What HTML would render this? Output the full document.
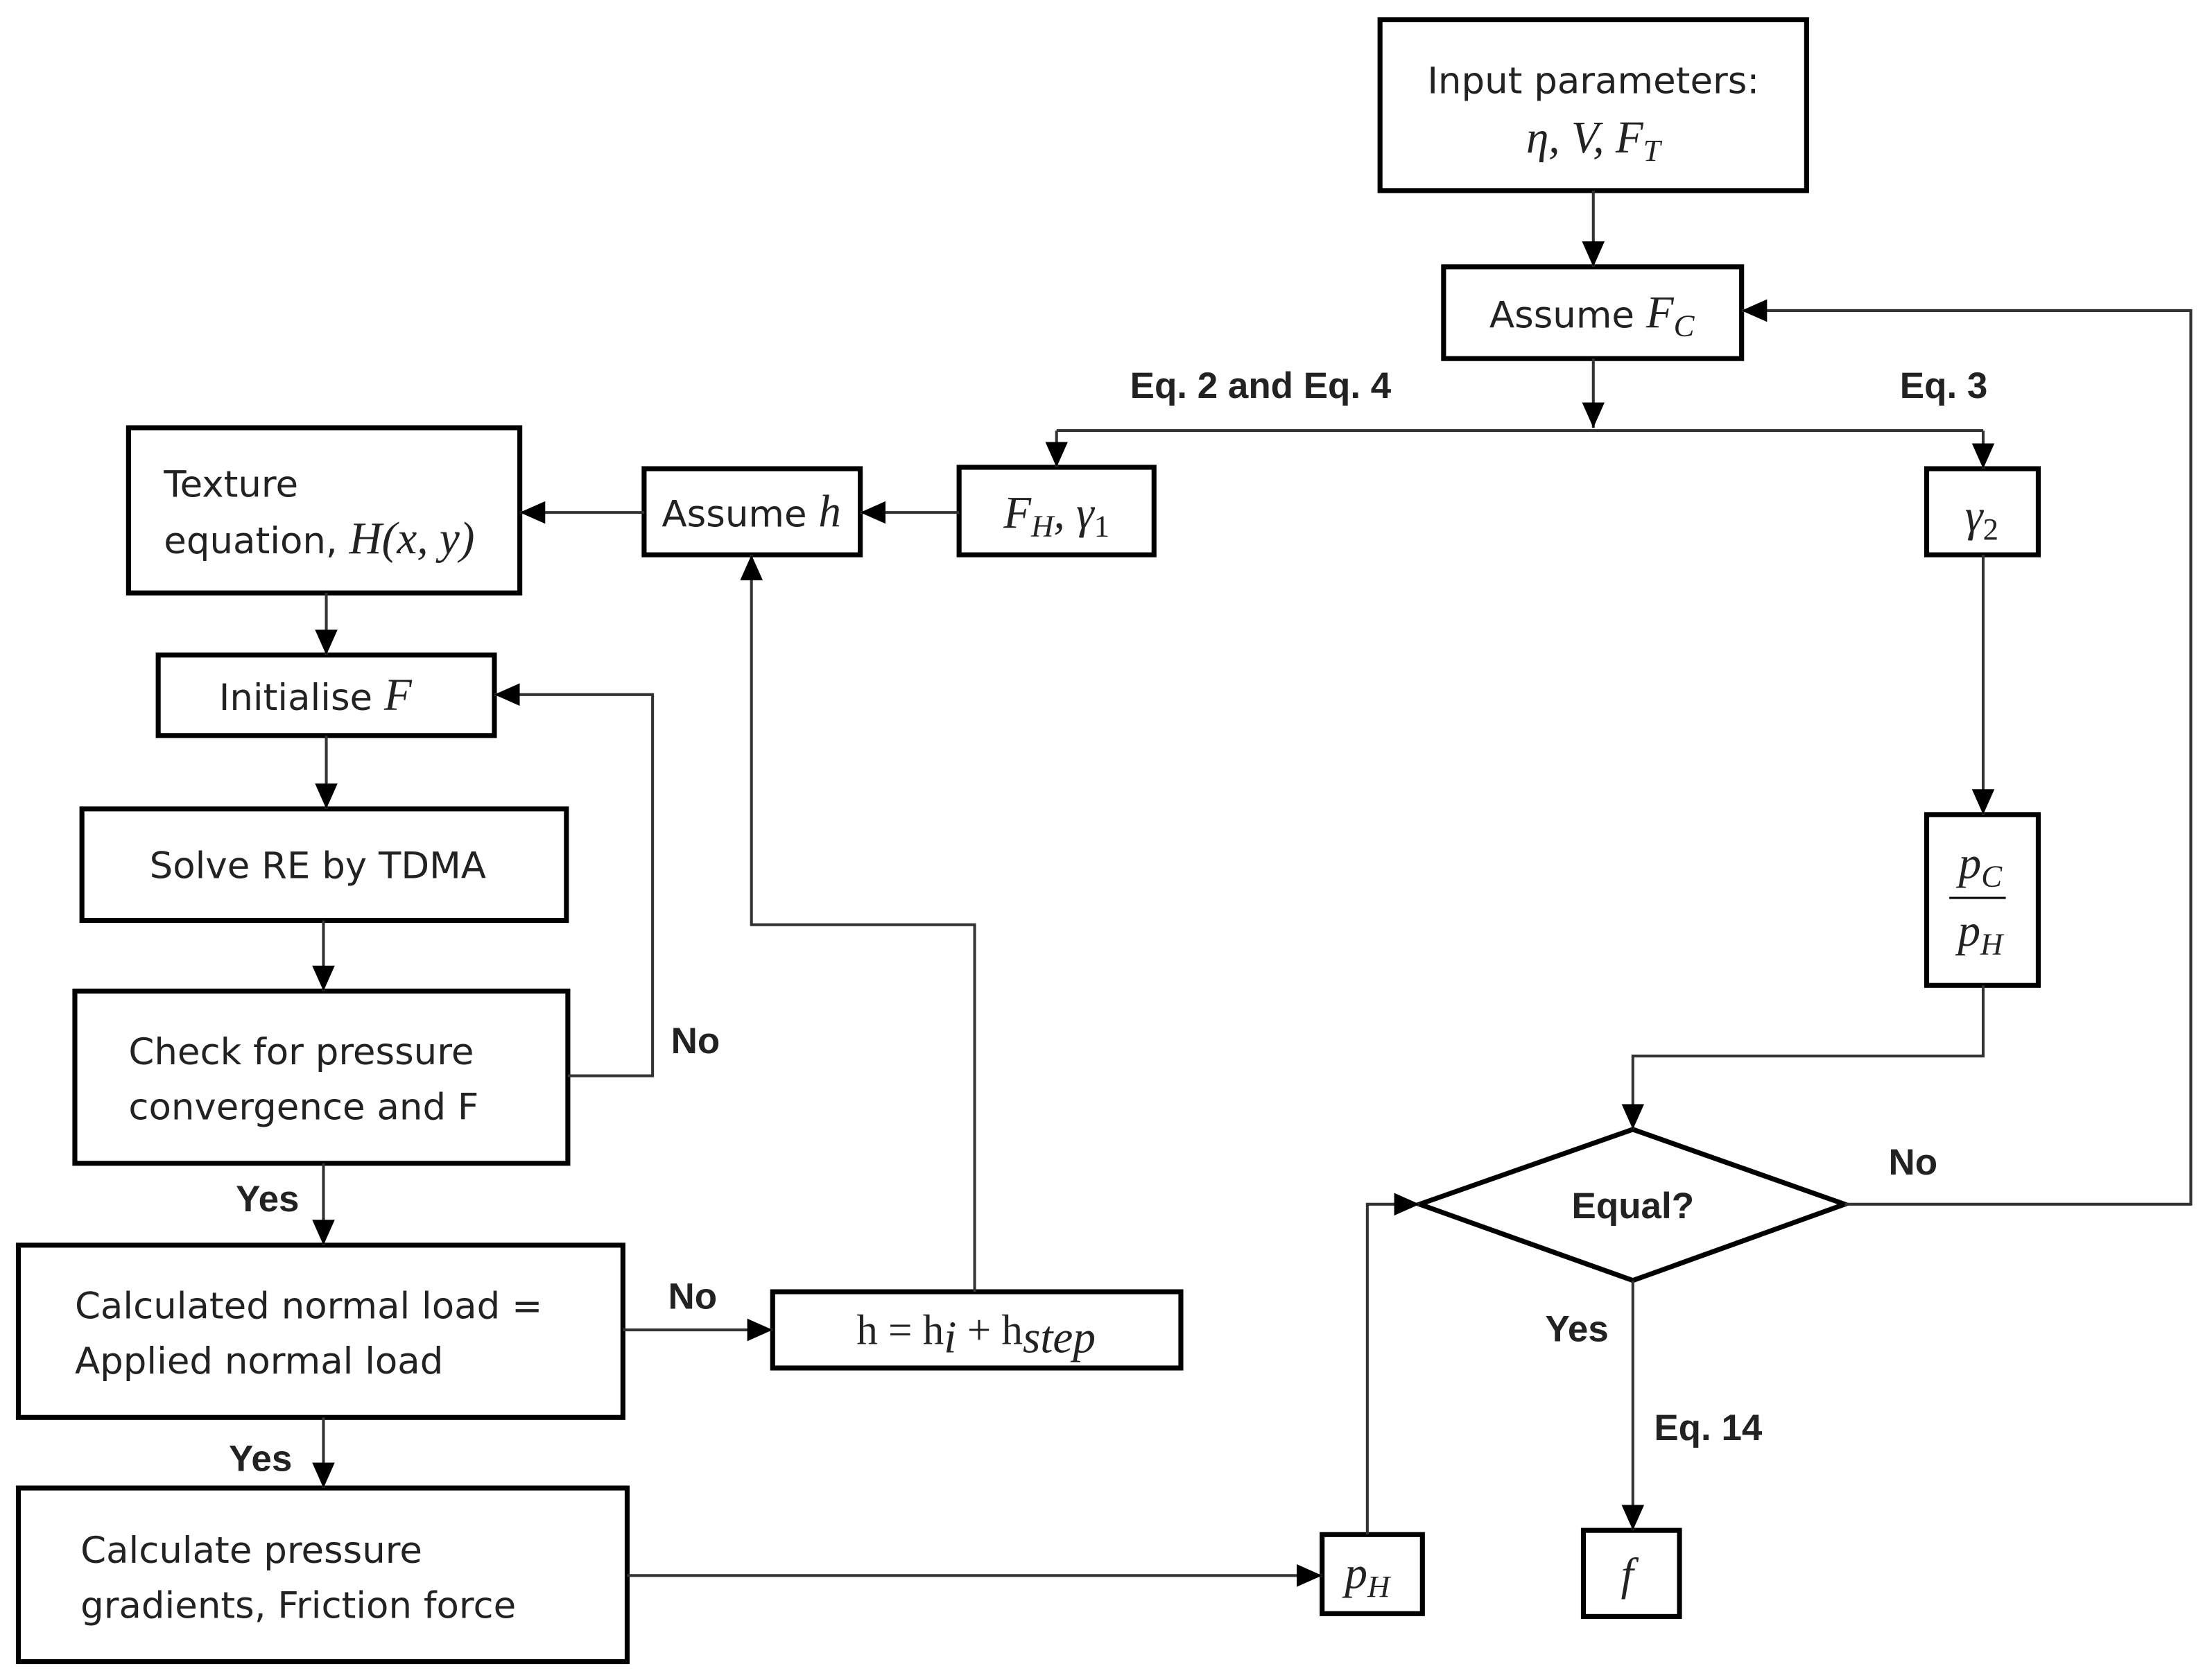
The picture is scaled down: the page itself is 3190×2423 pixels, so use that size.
<!DOCTYPE html>
<html><head><meta charset="utf-8"><style>
html,body{margin:0;padding:0;background:#fff;}
svg{display:block}
text{font-family:"DejaVu Sans","Liberation Sans",sans-serif;font-size:26px;fill:#222}
.m{font-family:"Liberation Serif",serif;font-style:italic;font-size:32px}
.b{font-weight:bold;font-family:"Liberation Sans",sans-serif;font-size:26px}
rect,polygon.d{fill:#fff;stroke:#000;stroke-width:3.5}
.l{fill:none;stroke:#333;stroke-width:2}
</style></head><body>
<svg width="3190" height="2423" viewBox="0 0 1566 1190" preserveAspectRatio="none" xmlns="http://www.w3.org/2000/svg">
<defs>
<marker id="A" markerWidth="20" markerHeight="20" refX="18" refY="10" orient="auto" markerUnits="userSpaceOnUse"><path d="M0,2 L18,10 L0,18z" fill="#000"/></marker></defs>

<rect x="977" y="14" width="302" height="121"/>
<text x="1128" y="66" text-anchor="middle">Input parameters:</text>
<text x="1128" y="108" text-anchor="middle" class="m">η, V, F<tspan font-size="22" dy="6">T</tspan></text>

<rect x="1022" y="189" width="211" height="65"/>
<text x="1127" y="232" text-anchor="middle">Assume <tspan class="m">F<tspan font-size="22" dy="6">C</tspan></tspan></text>

<text x="800" y="282" class="b">Eq. 2 and Eq. 4</text>
<text x="1345" y="282" class="b">Eq. 3</text>

<rect x="679" y="331" width="138" height="62"/>
<text x="748" y="374" text-anchor="middle" class="m">F<tspan font-size="22" dy="6">H</tspan><tspan dy="-6">, γ</tspan><tspan font-size="22" dy="6" font-style="normal">1</tspan></text>
<rect x="1364" y="332" width="79" height="61"/>
<text x="1403" y="376" text-anchor="middle" class="m">γ<tspan font-size="22" dy="6" font-style="normal">2</tspan></text>
<rect x="456" y="332" width="153" height="61"/>
<text x="532" y="373" text-anchor="middle">Assume <tspan class="m">h</tspan></text>
<rect x="91" y="303" width="277" height="117"/>
<text x="116" y="352">Texture</text>
<text x="116" y="392">equation, <tspan class="m">H</tspan><tspan class="m" font-style="normal">(</tspan><tspan class="m">x, y</tspan><tspan class="m" font-style="normal">)</tspan></text>
<rect x="112" y="464" width="238" height="57"/>
<text x="155" y="503">Initialise <tspan class="m">F</tspan></text>
<rect x="58" y="573" width="343" height="79"/>
<text x="225" y="622" text-anchor="middle">Solve RE by TDMA</text>
<rect x="53" y="702" width="349" height="122"/>
<text x="91" y="754">Check for pressure</text>
<text x="91" y="793">convergence and F</text>
<rect x="13" y="882" width="428" height="122"/>
<text x="53" y="934">Calculated normal load =</text>
<text x="53" y="973">Applied normal load</text>
<rect x="547" y="915" width="289" height="54"/>
<text x="691" y="952" text-anchor="middle" style="font-family:'Liberation Serif',serif;font-size:30px">h = h<tspan class="m" font-size="22" dy="6">i</tspan><tspan dy="-6"> + h</tspan><tspan class="m" font-size="22" dy="6">step</tspan></text>
<rect x="13" y="1054" width="431" height="123"/>
<text x="57" y="1107">Calculate pressure</text>
<text x="57" y="1146">gradients, Friction force</text>
<rect x="936" y="1087" width="71" height="56"/>
<text x="968" y="1125" text-anchor="middle" class="m">p<tspan font-size="22" dy="6">H</tspan></text>
<rect x="1121" y="1084" width="68" height="61"/>
<text x="1152" y="1126" text-anchor="middle" class="m">f</text>
<rect x="1364" y="577" width="79" height="121"/>
<text x="1402" y="622" text-anchor="middle" class="m">p<tspan font-size="22" dy="6">C</tspan></text>
<line x1="1380" y1="636" x2="1420" y2="636" stroke="#000" stroke-width="1.5"/>
<text x="1402" y="670" text-anchor="middle" class="m">p<tspan font-size="22" dy="6">H</tspan></text>
<polygon class="d" points="1005,853 1156,800 1306,853 1156,907"/>
<text x="1156" y="863" text-anchor="middle" class="b">Equal?</text>

<text x="475" y="746" class="b">No</text>
<text x="167" y="858" class="b">Yes</text>
<text x="473" y="927" class="b">No</text>
<text x="162" y="1042" class="b">Yes</text>
<text x="1337" y="832" class="b">No</text>
<text x="1094" y="950" class="b">Yes</text>
<text x="1171" y="1020" class="b">Eq. 14</text>

<g class="l">
<line x1="1128" y1="135" x2="1128" y2="189" marker-end="url(#A)"/>
<line x1="1128" y1="254" x2="1128" y2="303" marker-end="url(#A)"/>
<line x1="748" y1="305" x2="1404" y2="305"/>
<line x1="748" y1="305" x2="748" y2="331" marker-end="url(#A)"/>
<line x1="1404" y1="305" x2="1404" y2="332" marker-end="url(#A)"/>
<line x1="679" y1="363" x2="609" y2="363" marker-end="url(#A)"/>
<line x1="456" y1="363" x2="368" y2="363" marker-end="url(#A)"/>
<line x1="231" y1="420" x2="231" y2="464" marker-end="url(#A)"/>
<line x1="231" y1="521" x2="231" y2="573" marker-end="url(#A)"/>
<line x1="229" y1="652" x2="229" y2="702" marker-end="url(#A)"/>
<polyline points="402,762 462,762 462,492 350,492" marker-end="url(#A)"/>
<line x1="229" y1="824" x2="229" y2="882" marker-end="url(#A)"/>
<line x1="441" y1="942" x2="547" y2="942" marker-end="url(#A)"/>
<polyline points="690,915 690,655 532,655 532,393" marker-end="url(#A)"/>
<line x1="229" y1="1004" x2="229" y2="1054" marker-end="url(#A)"/>
<line x1="444" y1="1116" x2="936" y2="1116" marker-end="url(#A)"/>
<polyline points="968,1087 968,853 1005,853" marker-end="url(#A)"/>
<line x1="1404" y1="393" x2="1404" y2="577" marker-end="url(#A)"/>
<polyline points="1404,698 1404,748 1156,748 1156,800" marker-end="url(#A)"/>
<polyline points="1306,853 1551,853 1551,220 1233,220" marker-end="url(#A)"/>
<line x1="1156" y1="907" x2="1156" y2="1084" marker-end="url(#A)"/>
</g>
</svg>
</body></html>
